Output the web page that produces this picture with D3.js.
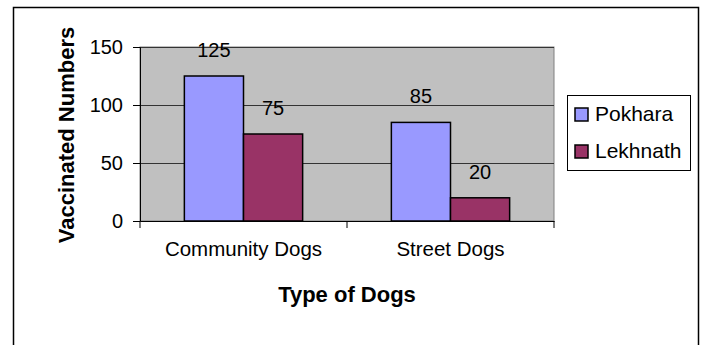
<!DOCTYPE html>
<html>
<head>
<meta charset="utf-8">
<script src="https://cdn.jsdelivr.net/npm/d3@7"></script>
<style>
  html, body { margin: 0; padding: 0; background: #fff; }
  svg { display: block; font-family: "Liberation Sans", Arial, sans-serif; }
</style>
</head>
<body>
<svg id="chart" width="706" height="345"></svg>
<script>
// Vaccinated dogs by type and municipality
const categories = ["Community Dogs", "Street Dogs"];
const seriesNames = ["Pokhara", "Lekhnath"];
const pokhara = [125, 85];
const lekhnath = [75, 20];
const yTicks = [0, 50, 100, 150];
const colors = ["#9999FF", "#993366"];

const svg = d3.select("#chart");
const plot = { left: 140, top: 47, right: 554, bottom: 221 };

// outer chart frame
svg.append("rect")
  .attr("x", 13.5).attr("y", 7.5)
  .attr("width", 685).attr("height", 360)
  .attr("fill", "#fff").attr("stroke", "#000").attr("stroke-width", 1.5);

const x0 = d3.scaleBand().domain(categories).range([plot.left, plot.right]);
const x1 = d3.scaleBand().domain(seriesNames).range([0, x0.bandwidth()]).paddingOuter(0.75).paddingInner(0);
const y = d3.scaleLinear().domain([0, 150]).range([plot.bottom, plot.top]);

// plot area background
svg.append("rect")
  .attr("x", plot.left).attr("y", plot.top)
  .attr("width", plot.right - plot.left).attr("height", plot.bottom - plot.top)
  .attr("fill", "#C0C0C0").attr("stroke", "#808080").attr("stroke-width", 1);

// horizontal gridlines
svg.append("g").selectAll("line").data(yTicks.filter(d => d > 0)).join("line")
  .attr("x1", plot.left).attr("x2", plot.right)
  .attr("y1", d => Math.round(y(d)) + 0.5).attr("y2", d => Math.round(y(d)) + 0.5)
  .attr("stroke", "#333").attr("stroke-width", 1);

// bars
const data = categories.map((c, i) => ({ cat: c, values: [pokhara[i], lekhnath[i]] }));
const groups = svg.append("g").selectAll("g").data(data).join("g")
  .attr("transform", d => `translate(${x0(d.cat)},0)`);

groups.selectAll("rect").data(d => d.values.map((v, j) => ({ name: seriesNames[j], v, j })))
  .join("rect")
  .attr("x", d => x1(d.name))
  .attr("y", d => y(d.v))
  .attr("width", x1.bandwidth())
  .attr("height", d => y(0) - y(d.v))
  .attr("fill", d => colors[d.j])
  .attr("stroke", "#000").attr("stroke-width", 1.5);

// value labels
groups.selectAll("text").data(d => d.values.map((v, j) => ({ name: seriesNames[j], v, j })))
  .join("text")
  .attr("x", d => x1(d.name) + x1.bandwidth() / 2)
  .attr("y", d => y(d.v) - 19)
  .attr("text-anchor", "middle")
  .attr("font-size", 20)
  .attr("fill", "#000")
  .text(d => d.v);

// y axis
const yAxis = d3.axisLeft(y).tickValues(yTicks).tickSize(7).tickPadding(10);
const gy = svg.append("g").attr("transform", `translate(${plot.left},0)`).call(yAxis);
gy.select(".domain").attr("stroke", "#000");
gy.selectAll(".tick line").attr("stroke", "#000");
gy.selectAll(".tick text").attr("font-size", 20).attr("font-family", "Liberation Sans, Arial, sans-serif").attr("fill", "#000");

// x axis
const xAxis = d3.axisBottom(x0).tickSize(0).tickPadding(20);
const gx = svg.append("g").attr("transform", `translate(0,${plot.bottom})`).call(xAxis);
gx.select(".domain").attr("stroke", "#000");
gx.selectAll(".tick text").attr("font-size", 20.5).attr("font-family", "Liberation Sans, Arial, sans-serif").attr("fill", "#000");
// category separator ticks
const edges = [plot.left, x0(categories[1]), plot.right];
gx.selectAll(".sep").data(edges).join("line").attr("class", "sep")
  .attr("x1", d => d).attr("x2", d => d).attr("y1", 0).attr("y2", 7)
  .attr("stroke", "#000");

// axis titles
svg.append("text")
  .attr("x", (plot.left + plot.right) / 2).attr("y", 302)
  .attr("text-anchor", "middle").attr("font-size", 22).attr("font-weight", "bold")
  .text("Type of Dogs");

svg.append("text")
  .attr("transform", `translate(74,${(plot.top + plot.bottom) / 2 + 1}) rotate(-90)`)
  .attr("text-anchor", "middle").attr("font-size", 22).attr("font-weight", "bold")
  .text("Vaccinated Numbers");

// legend
const legend = svg.append("g");
legend.append("rect")
  .attr("x", 567.5).attr("y", 95.5).attr("width", 123).attr("height", 75)
  .attr("fill", "#fff").attr("stroke", "#000").attr("stroke-width", 1);
const items = legend.selectAll("g.item").data(seriesNames).join("g")
  .attr("class", "item")
  .attr("transform", (d, i) => `translate(575,${108 + i * 37})`);
items.append("rect").attr("width", 13).attr("height", 13)
  .attr("fill", (d, i) => colors[i]).attr("stroke", "#000").attr("stroke-width", 1.5);
items.append("text").attr("x", 20).attr("y", 13)
  .attr("font-size", 21).text(d => d);
</script>
</body>
</html>
